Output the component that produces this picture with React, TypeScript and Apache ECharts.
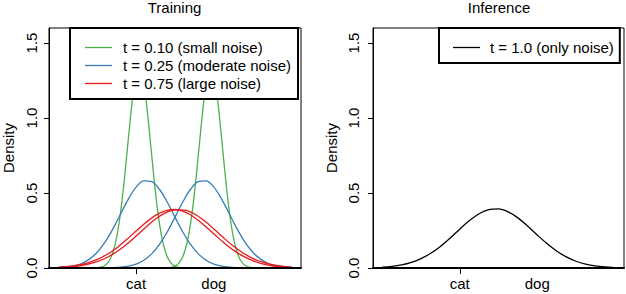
import React, { useEffect, useRef } from "react";
import * as echarts from "echarts";

// ---- data ----
const PANEL_TITLES = ["Training", "Inference"];
const CATEGORIES = ["cat", "dog"];
const CATEGORY_POS = [-1, 1];
const Y_TICKS = [0, 0.5, 1.0, 1.5];
const X_RANGE = [-3.24, 3.24];
const Y_RANGE = [0, 1.6];

const NAME_GREEN = "t = 0.10 (small noise)";
const NAME_BLUE = "t = 0.25 (moderate noise)";
const NAME_RED = "t = 0.75 (large noise)";
const NAME_BLACK = "t = 1.0 (only noise)";

const X_GREEN_CAT = [-2.0, -1.9, -1.8, -1.7, -1.6, -1.5, -1.4, -1.3, -1.2, -1.1, -1.0, -0.9, -0.8, -0.7, -0.6, -0.5, -0.4, -0.3, -0.2, -0.1, 0.0, 0.1, 0.2];
const GREEN_CAT = [0.002, 0.006, 0.018, 0.045, 0.102, 0.205, 0.370, 0.596, 0.860, 1.111, 1.284, 1.327, 1.228, 1.016, 0.753, 0.499, 0.296, 0.157, 0.075, 0.032, 0.012, 0.004, 0.001];
const X_GREEN_DOG = [-0.2, -0.1, 0.0, 0.1, 0.2, 0.3, 0.4, 0.5, 0.6, 0.7, 0.8, 0.9, 1.0, 1.1, 1.2, 1.3, 1.4, 1.5, 1.6, 1.7, 1.8, 1.9, 2.0];
const GREEN_DOG = [0.001, 0.004, 0.012, 0.032, 0.075, 0.157, 0.296, 0.499, 0.753, 1.016, 1.228, 1.327, 1.284, 1.111, 0.860, 0.596, 0.370, 0.205, 0.102, 0.045, 0.018, 0.006, 0.002];

const X_BLUE_CAT = [-3.0, -2.8, -2.6, -2.4, -2.2, -2.0, -1.8, -1.6, -1.4, -1.2, -1.0, -0.8, -0.6, -0.4, -0.2, 0.0, 0.2, 0.4, 0.6, 0.8, 1.0, 1.2, 1.4, 1.6, 1.8, 2.0];
const BLUE_CAT = [0.002, 0.006, 0.014, 0.030, 0.059, 0.105, 0.172, 0.259, 0.360, 0.459, 0.539, 0.581, 0.576, 0.525, 0.440, 0.339, 0.240, 0.157, 0.094, 0.052, 0.026, 0.012, 0.005, 0.002, 0.001, 0.000];
const X_BLUE_DOG = [-2.0, -1.8, -1.6, -1.4, -1.2, -1.0, -0.8, -0.6, -0.4, -0.2, 0.0, 0.2, 0.4, 0.6, 0.8, 1.0, 1.2, 1.4, 1.6, 1.8, 2.0, 2.2, 2.4, 2.6, 2.8, 3.0];
const BLUE_DOG = [0.000, 0.001, 0.002, 0.005, 0.012, 0.026, 0.052, 0.094, 0.157, 0.240, 0.339, 0.440, 0.525, 0.576, 0.581, 0.539, 0.459, 0.360, 0.259, 0.172, 0.105, 0.059, 0.030, 0.014, 0.006, 0.002];

const X_WIDE = [-3.0, -2.75, -2.5, -2.25, -2.0, -1.75, -1.5, -1.25, -1.0, -0.75, -0.5, -0.25, 0.0, 0.25, 0.5, 0.75, 1.0, 1.25, 1.5, 1.75, 2.0, 2.25, 2.5, 2.75, 3.0];
const RED_CAT = [0.005, 0.010, 0.019, 0.034, 0.057, 0.090, 0.134, 0.188, 0.246, 0.303, 0.351, 0.381, 0.390, 0.374, 0.337, 0.285, 0.227, 0.170, 0.119, 0.079, 0.049, 0.028, 0.015, 0.008, 0.004];
const RED_DOG = [0.003, 0.007, 0.013, 0.025, 0.043, 0.070, 0.108, 0.157, 0.213, 0.272, 0.326, 0.367, 0.388, 0.386, 0.360, 0.316, 0.260, 0.201, 0.146, 0.100, 0.064, 0.039, 0.022, 0.012, 0.006];
const BLACK_NOISE = [0.006, 0.011, 0.021, 0.038, 0.063, 0.098, 0.144, 0.199, 0.259, 0.316, 0.362, 0.389, 0.394, 0.374, 0.334, 0.280, 0.220, 0.163, 0.113, 0.074, 0.045, 0.026, 0.014, 0.007, 0.003];

const COLORS = { green: "#4DAF4A", blue: "#377EB8", red: "#E41A1C", black: "#000000" };
const FONT = "'Liberation Sans', Arial, Helvetica, sans-serif";
const FS = 15;

const zip = (xs: number[], ys: number[]) => xs.map((x, i) => [x, ys[i]]);

function makeX(gridIndex: number) {
  return {
    type: "value",
    gridIndex,
    min: X_RANGE[0],
    max: X_RANGE[1],
    z: 5,
    axisLine: { show: true, onZero: false, lineStyle: { color: "#000", width: 2 } },
    axisTick: { show: true, length: 6, customValues: [CATEGORY_POS[0]], lineStyle: { color: "#000", width: 1 } },
    axisLabel: {
      show: true,
      customValues: CATEGORY_POS,
      formatter: (v: number) => CATEGORIES[CATEGORY_POS.indexOf(v)] ?? "",
      margin: 8,
      color: "#000",
      fontSize: FS,
      fontFamily: FONT,
    },
    splitLine: { show: false },
  };
}

function makeY(gridIndex: number, margin: number, nameGap: number) {
  return {
    type: "value",
    gridIndex,
    min: Y_RANGE[0],
    max: Y_RANGE[1],
    axisLine: { show: true, onZero: false, lineStyle: { color: "#000", width: 1 } },
    axisTick: { show: true, length: 5, customValues: Y_TICKS, lineStyle: { color: "#000", width: 1 } },
    axisLabel: {
      show: true,
      customValues: Y_TICKS,
      formatter: (v: number) => v.toFixed(1),
      rotate: 90,
      margin,
      color: "#000",
      fontSize: FS,
      fontFamily: FONT,
    },
    splitLine: { show: false },
    name: "Density",
    nameLocation: "middle",
    nameRotate: 90,
    nameGap,
    nameTextStyle: { color: "#000", fontSize: FS, fontFamily: FONT },
  };
}

function line(name: string, data: number[][], color: string, idx: number) {
  return {
    type: "line",
    name,
    xAxisIndex: idx,
    yAxisIndex: idx,
    data,
    symbol: "none",
    showSymbol: false,
    smooth: 0.35,
    lineStyle: { color, width: 1.3 },
    itemStyle: { color },
    z: 2,
  };
}

export default function App() {
  const ref = useRef<HTMLDivElement>(null);
  useEffect(() => {
    if (!ref.current) return;
    const chart = echarts.init(ref.current, null, { renderer: "svg" });
    const legendCommon = {
      orient: "vertical",
      icon: "rect",
      itemWidth: 27,
      itemHeight: 1.3,
      itemGap: 3,
      backgroundColor: "#fff",
      borderColor: "#000",
      borderWidth: 2,
      borderRadius: 0,
      selectedMode: false,
      textStyle: { color: "#000", fontSize: FS, fontFamily: FONT, padding: [0, 0, 0, 6] },
    };
    chart.setOption({
      animation: false,
      backgroundColor: "#fff",
      grid: [
        { left: 48, top: 28, width: 253, height: 240, show: true, borderColor: "#000", borderWidth: 1, backgroundColor: "transparent" },
        { left: 373, top: 28, width: 251, height: 240, show: true, borderColor: "#000", borderWidth: 1, backgroundColor: "transparent" },
      ],
      xAxis: [makeX(0), makeX(1)],
      yAxis: [makeY(0, 10, 33), makeY(1, 12, 34)],
      legend: [
        { ...legendCommon, left: 70, top: 28, padding: [12, 7, 8, 15], data: [NAME_GREEN, NAME_BLUE, NAME_RED] },
        { ...legendCommon, left: 439, top: 28, padding: [12, 6, 8, 14], data: [NAME_BLACK], textStyle: { ...legendCommon.textStyle, padding: [0, 0, 0, 5] } },
      ],
      graphic: [
        { type: "text", x: 174.5, y: 0, style: { text: PANEL_TITLES[0], font: `${FS}px ${FONT}`, fill: "#000", align: "center", verticalAlign: "top", textAlign: "center", textVerticalAlign: "top" } },
        { type: "text", x: 499, y: 0, style: { text: PANEL_TITLES[1], font: `${FS}px ${FONT}`, fill: "#000", align: "center", verticalAlign: "top", textAlign: "center", textVerticalAlign: "top" } },
      ],
      series: [
        line(NAME_GREEN, zip(X_GREEN_CAT, GREEN_CAT), COLORS.green, 0),
        line(NAME_GREEN, zip(X_GREEN_DOG, GREEN_DOG), COLORS.green, 0),
        line(NAME_BLUE, zip(X_BLUE_CAT, BLUE_CAT), COLORS.blue, 0),
        line(NAME_BLUE, zip(X_BLUE_DOG, BLUE_DOG), COLORS.blue, 0),
        line(NAME_RED, zip(X_WIDE, RED_CAT), COLORS.red, 0),
        line(NAME_RED, zip(X_WIDE, RED_DOG), COLORS.red, 0),
        line(NAME_BLACK, zip(X_WIDE, BLACK_NOISE), COLORS.black, 1),
      ],
    });
    return () => chart.dispose();
  }, []);
  return <div ref={ref} style={{ position: "fixed", left: 0, top: 0, width: 626, height: 294 }} />;
}
